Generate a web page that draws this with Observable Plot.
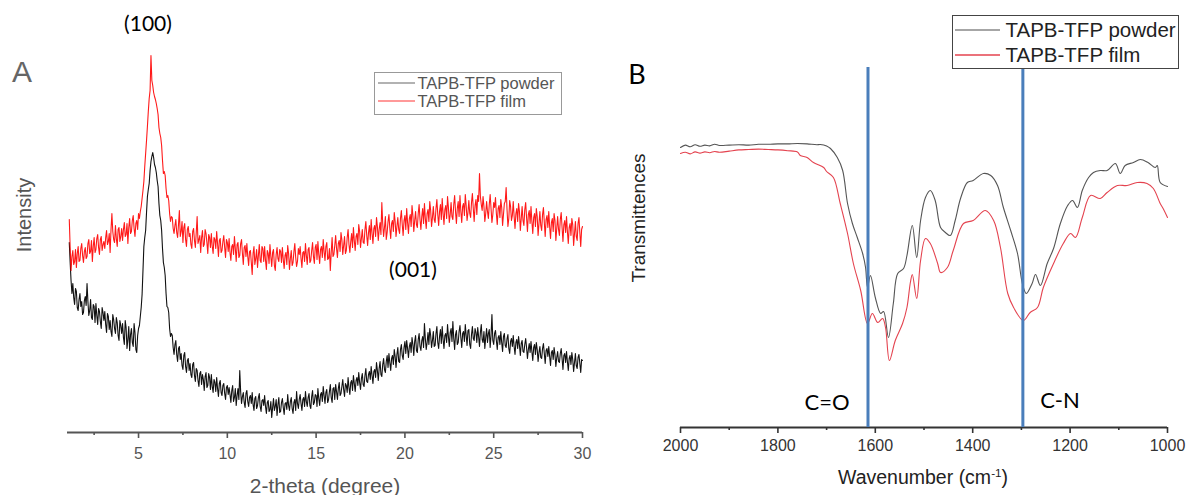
<!DOCTYPE html>
<html>
<head>
<meta charset="utf-8">
<script src="https://cdn.jsdelivr.net/npm/d3@7"></script>
<script src="https://cdn.jsdelivr.net/npm/@observablehq/plot@0.6"></script>
<style>
  html, body { margin: 0; padding: 0; background: #fff; }
  #page { position: relative; width: 1187px; height: 495px; overflow: hidden; background: #fff; }
  .abs { position: absolute; white-space: nowrap; line-height: 1; }
  .panel { position: absolute; top: 0; }
  .lab { font-family: Lato, "Open Sans", sans-serif; color: #000; }
  .arial { font-family: "Liberation Sans", Arial, sans-serif; }
  .legend { position: absolute; background: #fff; box-sizing: border-box; }
  .legtext { position: absolute; font-family: "Liberation Sans", Arial, sans-serif; white-space: nowrap; line-height: 1; transform: translateY(-50%); }
</style>
</head>
<body>
<div id="page"></div>
<script>
// ---------------- Panel A: XRD (2-theta grid 1.10 .. 30.00, step 0.05) ----------------
const thetaStart = 1.1;
const thetaStep = 0.05;
const xrdTicksMajor = [5, 10, 15, 20, 25, 30];
const xrdTicksMinor = [2.5, 7.5, 12.5, 17.5, 22.5, 27.5];

const xrdPowder = [
  190,170,152,139,149,135,128,144,141,125,122,133,139,126,131,118,120,132,136,127,
  149,131,117,122,133,115,113,128,126,110,129,117,108,124,121,111,104,125,120,112,
  121,108,100,119,116,103,112,101,96,118,113,104,99,115,110,97,92,112,107,99,
  109,95,88,112,105,84,93,106,82,98,104,90,86,109,100,83,80,97,104,107,
  116,125,138,162,186,195,202,220,236,243,249,262,271,276,280,275,268,265,260,252,
  246,229,217,212,202,184,170,165,157,139,126,125,120,104,96,99,97,85,78,88,
  92,78,71,84,86,73,79,67,63,77,80,66,60,72,74,62,69,58,55,68,
  70,57,51,64,62,52,46,59,61,48,58,53,42,56,60,45,47,59,55,43,
  58,46,40,53,50,41,55,44,36,49,52,40,37,47,49,39,33,45,47,38,
  45,38,30,42,47,31,35,44,27,37,44,33,62,41,29,36,40,30,25,39,
  42,31,26,35,37,29,40,28,22,34,36,24,27,35,39,26,21,32,33,27,
  37,26,19,30,32,21,23,31,15,25,34,22,26,33,17,28,35,20,21,30,
  34,25,18,29,30,23,38,27,22,31,35,24,19,30,33,22,41,29,24,33,
  38,29,22,33,35,26,41,31,26,35,39,27,24,36,42,28,30,38,37,26,
  44,34,27,38,40,31,46,37,29,40,43,30,33,41,48,35,30,44,45,33,
  48,41,33,44,50,37,39,46,53,43,36,49,47,40,55,45,38,50,52,42,
  57,49,41,52,55,47,60,50,43,54,59,48,46,57,64,51,50,58,61,53,
  66,57,49,61,63,55,70,62,52,64,71,58,56,68,74,63,60,71,77,65,
  79,70,62,74,77,68,83,76,65,78,85,71,70,83,88,77,73,85,91,79,
  92,84,75,86,90,80,95,88,77,91,97,82,80,93,99,86,82,92,96,85,
  109,94,83,90,100,88,104,97,85,92,101,86,87,99,106,90,84,96,103,89,
  106,93,84,97,99,90,108,96,86,100,104,91,111,94,83,98,102,88,90,101,
  107,95,85,99,101,91,108,97,87,102,103,88,84,98,106,94,92,104,100,90,
  105,96,86,100,108,93,90,101,84,95,104,90,99,103,85,97,118,92,88,99,
  102,92,83,95,97,88,101,90,81,96,99,87,85,94,98,84,79,91,94,86,
  97,86,78,90,93,84,96,87,77,89,92,81,80,88,94,85,74,83,89,80,
  91,81,72,85,88,78,90,83,71,80,86,75,74,84,89,79,69,82,84,76,
  86,76,67,80,82,73,85,78,66,75,81,71,70,79,84,74,63,77,79,70,
  81,71,62,74,77,68,80,73,61,70,79,67,64,75,78,69,60,73,72
];

const xrdFilm = [
  213,185,162,176,182,168,171,183,165,179,186,171,172,184,189,177,170,181,185,174,
  176,189,193,179,181,192,171,186,195,180,183,194,198,185,178,193,196,182,188,191,
  184,195,202,188,191,199,180,203,219,201,193,190,207,194,186,203,205,191,196,204,
  192,203,210,196,198,209,189,205,214,199,201,212,217,204,196,209,212,203,219,214,
  221,226,234,242,251,266,279,292,306,321,334,342,377,352,347,340,336,333,329,324,
  318,305,299,295,287,272,259,261,257,244,235,237,232,219,211,216,215,204,199,207,
  213,200,195,208,222,196,201,211,190,205,209,193,186,203,206,196,199,188,184,201,
  204,192,185,200,216,189,193,197,180,195,202,186,188,203,199,190,179,198,195,185,
  199,186,179,195,193,184,201,189,176,192,194,180,182,191,197,185,175,193,190,181,
  194,180,172,186,188,178,196,184,171,188,190,175,177,189,193,179,168,185,187,176,
  189,176,167,181,182,170,158,179,186,168,174,183,165,177,188,172,170,186,184,171,
  186,172,163,182,179,169,188,176,166,180,183,167,162,178,185,174,171,183,181,170,
  185,173,164,177,180,168,187,179,163,174,182,167,170,181,189,175,166,171,184,178,
  186,174,165,180,181,171,189,177,168,183,185,170,172,182,190,176,169,185,188,173,
  191,178,169,183,186,175,193,181,172,186,190,173,174,184,162,180,195,176,178,187,
  197,184,175,189,192,181,200,193,178,187,196,179,182,195,203,188,180,191,199,185,
  205,192,182,196,199,188,208,201,185,194,203,190,189,203,211,197,187,200,207,193,
  213,199,189,204,207,196,215,206,192,203,210,198,230,209,196,205,216,193,200,211,
  218,204,194,209,212,201,220,211,196,206,215,203,199,214,222,208,197,212,217,203,
  224,210,199,214,218,206,227,217,201,212,221,208,205,219,228,213,203,216,224,209,
  229,214,204,219,223,211,231,222,206,215,226,213,210,224,233,218,207,221,228,213,
  234,219,208,223,227,214,236,225,210,218,230,216,213,228,237,221,209,224,231,216,
  237,221,210,226,229,217,238,227,212,220,232,219,215,230,239,224,211,227,233,218,
  237,231,259,236,228,222,236,226,211,219,231,221,214,228,238,224,210,218,230,225,
  235,219,208,224,227,215,233,225,207,218,229,231,245,223,206,214,232,226,212,217,
  231,216,204,219,224,211,229,221,202,214,226,212,207,223,230,215,201,218,222,209,
  226,211,199,215,219,206,224,216,197,209,221,207,202,218,225,210,196,213,217,205,
  221,206,194,210,214,201,219,212,192,204,216,203,197,213,220,205,191,208,212,200,
  216,201,189,205,209,197,214,208,187,199,211,196,192,209,215,200,186,203,206
];

// ---------------- Panel B: FTIR ----------------
const ftirTicksMajor = [2000, 1800, 1600, 1400, 1200, 1000];
const ftirTicksMinor = [1900, 1700, 1500, 1300, 1100];
const markerWavenumbers = [1615, 1297];
const markerLabels = ["C=O", "C-N"];

const powderWn = [2000,1990,1980,1970,1960,1950,1940,1930,1920,1900,1880,1860,1840,1820,1800,1780,1760,1740,1720,1713,1700,1692,1678,1667,1657,1647,1637,1626,1620,1616,1610,1600,1589,1583,1573,1563,1554,1542,1535,1524,1515,1507,1497,1487,1477,1466,1456,1446,1436,1425,1411,1399,1378,1363,1349,1337,1322,1308,1298,1290,1278,1271,1261,1247,1234,1220,1205,1195,1185,1175,1162,1152,1138,1124,1107,1097,1087,1070,1056,1040,1025,1021,1015,1000];
const powderT = [70.0,70.6,70.2,70.7,70.3,70.6,70.4,70.8,70.5,70.6,70.7,70.6,70.8,70.8,70.9,70.9,71.0,70.9,70.7,70.75,70.4,69.75,67.5,64.25,56,51,47.5,43.5,40,35,38,32.5,28.5,29,22.5,31,38.5,39.75,43,50.5,42.5,51.75,57.5,59.25,56.75,50,48.75,48,51.75,57.25,61.25,61.75,63.5,63,60.5,55,49.25,43.5,36,33.5,36,38.25,35.5,41,44.75,51,55.5,56.75,55,59.25,62.5,63.75,64.25,64.25,66,63.5,65.5,66.25,67,66.25,65,65.5,61.25,60.25];

const filmWn = [2000,1990,1980,1970,1960,1950,1940,1930,1920,1900,1880,1860,1840,1820,1800,1780,1760,1754,1740,1727,1706,1700,1686,1672,1657,1645,1630,1616,1606,1595,1585,1579,1571,1559,1544,1535,1528,1524,1515,1507,1497,1487,1472,1466,1452,1440,1419,1399,1374,1357,1343,1328,1316,1296,1282,1267,1255,1234,1214,1199,1189,1175,1158,1138,1124,1103,1083,1062,1042,1029,1015,1009,1000];
const filmT = [68.5,68.8,68.4,68.9,68.6,68.9,68.7,69.0,68.8,69.1,69.4,69.5,69.6,69.5,69.4,69.2,68.9,68,67.5,66.25,65,64,62.5,56,48.5,41,34.25,26,28.5,26.25,27.25,25,16.75,21.75,26,30,36.25,38.25,32.25,41.75,47.25,46,41,38.75,40,44.25,51,51.75,54.25,51.75,45,33.5,30,26.75,28.75,30,35,41,46,48.5,47.5,52.5,58,57.25,58.75,60.5,60.5,61.25,61,59.75,56,54.75,52.5];

// ---------------- Build ----------------
const page = document.getElementById("page");

const xrdPowderRows = xrdPowder.map((v, i) => ({theta: +(thetaStart + i * thetaStep).toFixed(2), intensity: v}));
const xrdFilmRows = xrdFilm.map((v, i) => ({theta: +(thetaStart + i * thetaStep).toFixed(2), intensity: v}));

const greyA = "#555";
const plotA = Plot.plot({
  width: 600, height: 495,
  marginLeft: 67, marginRight: 18, marginTop: 32, marginBottom: 63,
  style: {fontFamily: "'Liberation Sans', Arial, sans-serif", background: "transparent", overflow: "visible"},
  x: {domain: [1, 30]},
  y: {domain: [0, 400], axis: null},
  marks: [
    Plot.ruleY([0], {stroke: greyA, strokeWidth: 2}),
    Plot.axisX({ticks: xrdTicksMinor, tickSize: 3, tickFormat: () => "", stroke: greyA, strokeWidth: 1.6, label: null}),
    Plot.axisX({ticks: xrdTicksMajor, tickSize: 6, tickPadding: 9, tickFormat: d => String(d), stroke: greyA, strokeWidth: 1.6, fill: greyA, fontSize: 16, label: null}),
    Plot.line(xrdPowderRows, {x: "theta", y: "intensity", stroke: "#111", strokeWidth: 1.1}),
    Plot.line(xrdFilmRows, {x: "theta", y: "intensity", stroke: "#f00", strokeWidth: 1.1, strokeOpacity: 0.9})
  ]
});
plotA.classList.add("panel");
plotA.style.left = "0px";
page.appendChild(plotA);

const powderRows = powderWn.map((w, i) => ({wn: w, T: powderT[i]}));
const filmRows = filmWn.map((w, i) => ({wn: w, T: filmT[i]}));

const darkB = "#333";
const plotB = Plot.plot({
  width: 587, height: 495,
  marginLeft: 80, marginRight: 20, marginTop: 27, marginBottom: 68,
  style: {fontFamily: "'Liberation Sans', Arial, sans-serif", background: "transparent", overflow: "visible"},
  x: {domain: [2000, 1000]},
  y: {domain: [0, 100], axis: null},
  marks: [
    Plot.ruleY([0], {stroke: darkB, strokeWidth: 2}),
    Plot.axisX({ticks: ftirTicksMinor, tickSize: 3, tickFormat: () => "", stroke: darkB, strokeWidth: 1.6, label: null}),
    Plot.axisX({ticks: ftirTicksMajor, tickSize: 6, tickPadding: 6, tickFormat: d => String(d), stroke: darkB, strokeWidth: 1.6, fill: darkB, fontSize: 16, label: null}),
    Plot.line(powderRows, {x: "wn", y: "T", stroke: "#555", strokeWidth: 1.1, curve: "catmull-rom"}),
    Plot.line(filmRows, {x: "wn", y: "T", stroke: "#e4434f", strokeWidth: 1.1, curve: "catmull-rom"}),
    Plot.ruleX(markerWavenumbers, {y1: 0, y2: 90, stroke: "#4a7ebb", strokeWidth: 3})
  ]
});
plotB.classList.add("panel");
plotB.style.left = "600px";
page.appendChild(plotB);

// ---------------- Text overlays ----------------
function addText(txt, cls, x, y, size, color, opts = {}) {
  const d = document.createElement("div");
  d.className = "abs " + cls;
  d.innerHTML = txt;
  d.style.left = x + "px";
  d.style.top = y + "px";
  d.style.fontSize = size + "px";
  d.style.color = color;
  let tr = "translate(-50%,-50%)";
  if (opts.rotate) tr += " rotate(-90deg)";
  d.style.transform = tr;
  if (opts.weight) d.style.fontWeight = opts.weight;
  page.appendChild(d);
  return d;
}

// Panel A
addText("A", "arial", 22, 72, 30, "#666", {weight: 300});
addText("(100)", "lab", 148, 22, 21, "#000");
addText("(001)", "lab", 413, 268, 21, "#000");
addText("Intensity", "arial", 24, 215, 20, greyA, {rotate: true});
addText("2-theta (degree)", "arial", 325, 485, 21, greyA);

// Panel B
addText("B", "lab", 637, 73, 27, "#000");
addText("Transmittences", "arial", 638, 218, 19, "#222", {rotate: true});
addText("Wavenumber (cm<sup style='font-size:0.6em;vertical-align:0.6em'>-1</sup>)", "arial", 923, 477, 19.5, "#222");
addText(markerLabels[0], "lab", 827, 402, 22, "#000");
addText(markerLabels[1], "lab", 1060, 400, 22, "#000");

// Legends
const NS = "http://www.w3.org/2000/svg";
function addLegend(x, y, w, h, border, items, fontSize, textColor, lineX1, lineX2, textX) {
  const box = document.createElement("div");
  box.className = "legend";
  box.style.left = x + "px"; box.style.top = y + "px";
  box.style.width = w + "px"; box.style.height = h + "px";
  box.style.border = border;
  page.appendChild(box);
  const svg = document.createElementNS(NS, "svg");
  svg.setAttribute("width", w); svg.setAttribute("height", h);
  svg.style.position = "absolute"; svg.style.left = "-1.5px"; svg.style.top = "-1.5px";
  box.appendChild(svg);
  items.forEach(it => {
    const ln = document.createElementNS(NS, "line");
    ln.setAttribute("x1", lineX1 - x); ln.setAttribute("x2", lineX2 - x);
    ln.setAttribute("y1", it.y - y); ln.setAttribute("y2", it.y - y);
    ln.setAttribute("stroke", it.color); ln.setAttribute("stroke-width", 1.3);
    svg.appendChild(ln);
    const t = document.createElement("div");
    t.className = "legtext";
    t.textContent = it.label;
    t.style.left = (textX - x - 1.5) + "px";
    t.style.top = (it.y - y - 1.5) + "px";
    t.style.fontSize = fontSize + "px";
    t.style.color = textColor;
    box.appendChild(t);
  });
}
addLegend(374, 72, 188, 43, "1.5px solid #999",
  [{label: "TAPB-TFP powder", y: 83, color: "#999"}, {label: "TAPB-TFP film", y: 101, color: "#f77"}],
  16.5, "#555", 378, 415, 418);
addLegend(952, 15, 227, 54, "1.5px solid #444",
  [{label: "TAPB-TFP powder", y: 30, color: "#888"}, {label: "TAPB-TFP film", y: 55, color: "#e4434f"}],
  20.5, "#222", 955, 1000, 1006);
</script>
</body>
</html>
